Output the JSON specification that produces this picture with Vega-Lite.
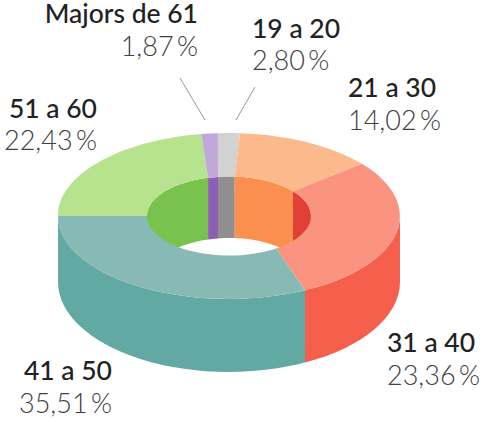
{"$schema":"https://vega.github.io/schema/vega-lite/v6.json","width":484,"height":422,"padding":0,"autosize":{"type":"none"},"background":"white","config":{"view":{"stroke":null},"axis":{"disable":true}},
"data":{"values":[{"i":0,"label":"19 a 20","value":2.80},{"i":1,"label":"21 a 30","value":14.02},{"i":2,"label":"31 a 40","value":23.36},{"i":3,"label":"41 a 50","value":35.51},{"i":4,"label":"51 a 60","value":22.43},{"i":5,"label":"Majors de 61","value":1.87}]},
"transform":[
{"window":[{"op":"sum","field":"value","as":"cum"}],"sort":[{"field":"i"}],"frame":[null,0]},
{"calculate":"(datum.cum-datum.value)*3.6-5","as":"t0"},
{"calculate":"datum.cum*3.6-5","as":"t1"},
{"calculate":"datum.t0+[1.3,-1.38,-4.55,13.95,2.5,2.4,1.3][datum.i]","as":"o0"},
{"calculate":"datum.t1+[1.3,-1.38,-4.55,13.95,2.5,2.4,1.3][datum.i+1]","as":"o1"},
{"calculate":"datum.t0+[-2.7,-1.08,-4.25,5.35,2.5,-3,-2.7][datum.i]","as":"n0"},
{"calculate":"datum.t1+[-2.7,-1.08,-4.25,5.35,2.5,-3,-2.7][datum.i+1]","as":"n1"},
{"calculate":"'M'+round(1710*sin(datum.o0*PI/180))/10+' '+round(-830*cos(datum.o0*PI/180))/10+'A171 83 0 0 1 '+round(1710*sin(datum.o1*PI/180))/10+' '+round(-830*cos(datum.o1*PI/180))/10+'L'+round(820*sin(datum.n1*PI/180))/10+' '+round(-395*cos(datum.n1*PI/180))/10+'A82 39.5 0 0 0 '+round(820*sin(datum.n0*PI/180))/10+' '+round(-395*cos(datum.n0*PI/180))/10+'Z'","as":"topPath"},
{"calculate":"max(datum.o0,90)","as":"w0"},
{"calculate":"min(datum.o1,270)","as":"w1"},
{"calculate":"'M'+round(1710*sin(datum.w0*PI/180))/10+' '+round(-830*cos(datum.w0*PI/180))/10+'A171 83 0 0 1 '+round(1710*sin(datum.w1*PI/180))/10+' '+round(-830*cos(datum.w1*PI/180))/10+'L'+round(1710*sin(datum.w1*PI/180))/10+' '+round(660-900*cos(datum.w1*PI/180))/10+'A171 90 0 0 0 '+round(1710*sin(datum.w0*PI/180))/10+' '+round(660-900*cos(datum.w0*PI/180))/10+'Z'","as":"outerPath"},
{"calculate":"datum.n0<90?min(datum.n1,90):datum.n1","as":"v1"},
{"calculate":"'M'+round(820*sin(datum.n0*PI/180))/10+' '+round(-395*cos(datum.n0*PI/180))/10+'A82 39.5 0 0 1 '+round(820*sin(datum.v1*PI/180))/10+' '+round(-395*cos(datum.v1*PI/180))/10+'L'+round(820*sin(datum.v1*PI/180))/10+' '+round(660-440*cos(datum.v1*PI/180))/10+'A82 44 0 0 0 '+round(820*sin(datum.n0*PI/180))/10+' '+round(660-440*cos(datum.n0*PI/180))/10+'Z'","as":"innerPath"},
{"calculate":"[23,119,158,-117,-132,-31][datum.i]","as":"lx"},
{"calculate":"[-178.5,-119,136,164,-98.5,-193][datum.i]","as":"ly"},
{"calculate":"datum.ly+32.5","as":"ly2"},
{"calculate":"replace(format(datum.value,'.2f'),'.',',')+'\u2009%'","as":"pct"},
{"calculate":"datum.i==0?26:-49","as":"r1x"},
{"calculate":"datum.i==0?-129:-138","as":"r1y"},
{"calculate":"datum.i==0?7:-24","as":"r2x"}
],
"layer":[
{"transform":[{"filter":"datum.n0<90||datum.n0>=269"}],"mark":{"type":"point","filled":true,"opacity":1,"strokeWidth":0},"encoding":{"x":{"datum":0,"type":"quantitative","scale":{"domain":[-229,255],"nice":false,"zero":false},"axis":null},"y":{"datum":0,"type":"quantitative","scale":{"domain":[-216,206],"reverse":true,"nice":false,"zero":false},"axis":null},"shape":{"field":"innerPath","type":"nominal","scale":null,"legend":null},"size":{"value":4},"color":{"field":"label","type":"nominal","legend":null,"scale":{"domain":["19 a 20","21 a 30","31 a 40","41 a 50","51 a 60","Majors de 61"],"range":["#908e8e","#fb8f50","#e04036","#63a9a3","#7ac24e","#8c5fb4"]}}}},
{"transform":[{"filter":"datum.w1>datum.w0"}],"mark":{"type":"point","filled":true,"opacity":1,"strokeWidth":0},"encoding":{"x":{"datum":0,"type":"quantitative","scale":{"domain":[-229,255],"nice":false,"zero":false},"axis":null},"y":{"datum":0,"type":"quantitative","scale":{"domain":[-216,206],"reverse":true,"nice":false,"zero":false},"axis":null},"shape":{"field":"outerPath","type":"nominal","scale":null,"legend":null},"size":{"value":4},"color":{"field":"label","type":"nominal","legend":null,"scale":{"domain":["19 a 20","21 a 30","31 a 40","41 a 50","51 a 60","Majors de 61"],"range":["#908e8e","#fb8f50","#f55f4b","#63a9a3","#7ac24e","#8c5fb4"]}}}},
{"mark":{"type":"point","filled":true,"opacity":1,"strokeWidth":0},"encoding":{"x":{"datum":0,"type":"quantitative","scale":{"domain":[-229,255],"nice":false,"zero":false},"axis":null},"y":{"datum":0,"type":"quantitative","scale":{"domain":[-216,206],"reverse":true,"nice":false,"zero":false},"axis":null},"shape":{"field":"topPath","type":"nominal","scale":null,"legend":null},"size":{"value":4},"color":{"field":"label","type":"nominal","legend":null,"scale":{"domain":["19 a 20","21 a 30","31 a 40","41 a 50","51 a 60","Majors de 61"],"range":["#d2d2d2","#fcb98b","#fa9480","#88bab5","#b7e38f","#c1a8da"]}}}},
{"transform":[{"filter":"datum.i==0||datum.i==5"}],"mark":{"type":"rule","color":"#999999","strokeWidth":1},"encoding":{"x":{"field":"r1x","type":"quantitative","scale":{"domain":[-229,255],"nice":false,"zero":false},"axis":null},"y":{"field":"r1y","type":"quantitative","scale":{"domain":[-216,206],"reverse":true,"nice":false,"zero":false},"axis":null},"x2":{"field":"r2x"},"y2":{"datum":-96}}},
{"transform":[{"filter":"datum.lx>0"}],"mark":{"type":"text","align":"left","font":"Lato","fontSize":26.5,"fontWeight":500,"color":"#222222","baseline":"alphabetic"},"encoding":{"x":{"field":"lx","type":"quantitative","scale":{"domain":[-229,255],"nice":false,"zero":false},"axis":null},"y":{"field":"ly","type":"quantitative","scale":{"domain":[-216,206],"reverse":true,"nice":false,"zero":false},"axis":null},"text":{"field":"label"}}},
{"transform":[{"filter":"datum.lx<=0"}],"mark":{"type":"text","align":"right","font":"Lato","fontSize":26.5,"fontWeight":500,"color":"#222222","baseline":"alphabetic"},"encoding":{"x":{"field":"lx","type":"quantitative","scale":{"domain":[-229,255],"nice":false,"zero":false},"axis":null},"y":{"field":"ly","type":"quantitative","scale":{"domain":[-216,206],"reverse":true,"nice":false,"zero":false},"axis":null},"text":{"field":"label"}}},
{"transform":[{"filter":"datum.lx>0"}],"mark":{"type":"text","align":"left","font":"Lato","fontSize":27,"fontWeight":300,"color":"#404040","baseline":"alphabetic"},"encoding":{"x":{"field":"lx","type":"quantitative","scale":{"domain":[-229,255],"nice":false,"zero":false},"axis":null},"y":{"field":"ly2","type":"quantitative","scale":{"domain":[-216,206],"reverse":true,"nice":false,"zero":false},"axis":null},"text":{"field":"pct"}}},
{"transform":[{"filter":"datum.lx<=0"}],"mark":{"type":"text","align":"right","font":"Lato","fontSize":27,"fontWeight":300,"color":"#404040","baseline":"alphabetic"},"encoding":{"x":{"field":"lx","type":"quantitative","scale":{"domain":[-229,255],"nice":false,"zero":false},"axis":null},"y":{"field":"ly2","type":"quantitative","scale":{"domain":[-216,206],"reverse":true,"nice":false,"zero":false},"axis":null},"text":{"field":"pct"}}}
],
"resolve":{"scale":{"color":"independent"}}}
